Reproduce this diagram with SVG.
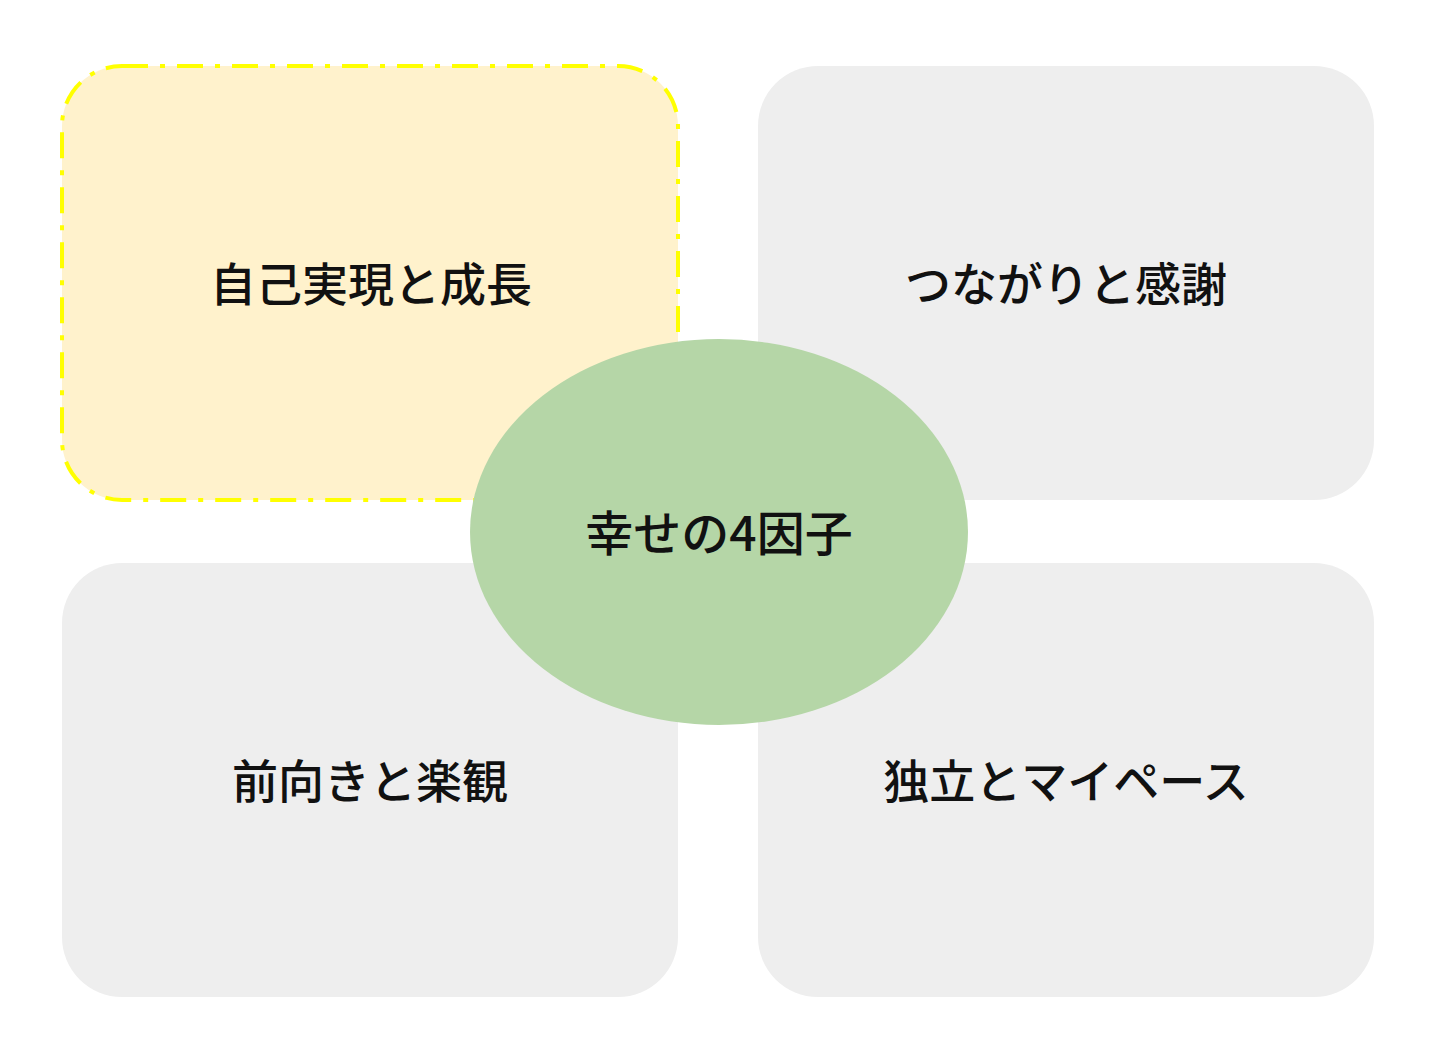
<svg xmlns="http://www.w3.org/2000/svg" width="1440" height="1054" viewBox="0 0 1440 1054">
<style>
.box{fill:#EEEEEE;}
.sel{fill:#FFF2CC;stroke:#FFFF00;stroke-width:4;stroke-dasharray:26 12 5 12;}
.hub{fill:#B5D6A7;}
.t{font-family:"Noto Sans CJK JP","Noto Sans",sans-serif;font-size:46px;font-weight:500;fill:#111;text-anchor:middle;dominant-baseline:central;}
.c{font-size:48px;}
</style>
<rect width="1440" height="1054" fill="#FFFFFF"/>
<g id="connectors"></g>
<g id="node-tr"><rect class="box" x="758" y="66" width="616" height="434" rx="60"/><text class="t" x="1066" y="281">つながりと感謝</text></g>
<g id="node-bl"><rect class="box" x="62" y="563" width="616" height="434" rx="60"/><text class="t" x="370" y="778">前向きと楽観</text></g>
<g id="node-br"><rect class="box" x="758" y="563" width="616" height="434" rx="60"/><text class="t" x="1066" y="778">独立とマイペース</text></g>
<g id="node-tl"><rect class="sel" x="62" y="66" width="616" height="434" rx="60"/><text class="t" x="371" y="281">自己実現と成長</text></g>
<g id="node-center"><ellipse class="hub" cx="719" cy="532" rx="249" ry="193"/><text class="t c" x="719" y="530">幸せの4因子</text></g>
</svg>
